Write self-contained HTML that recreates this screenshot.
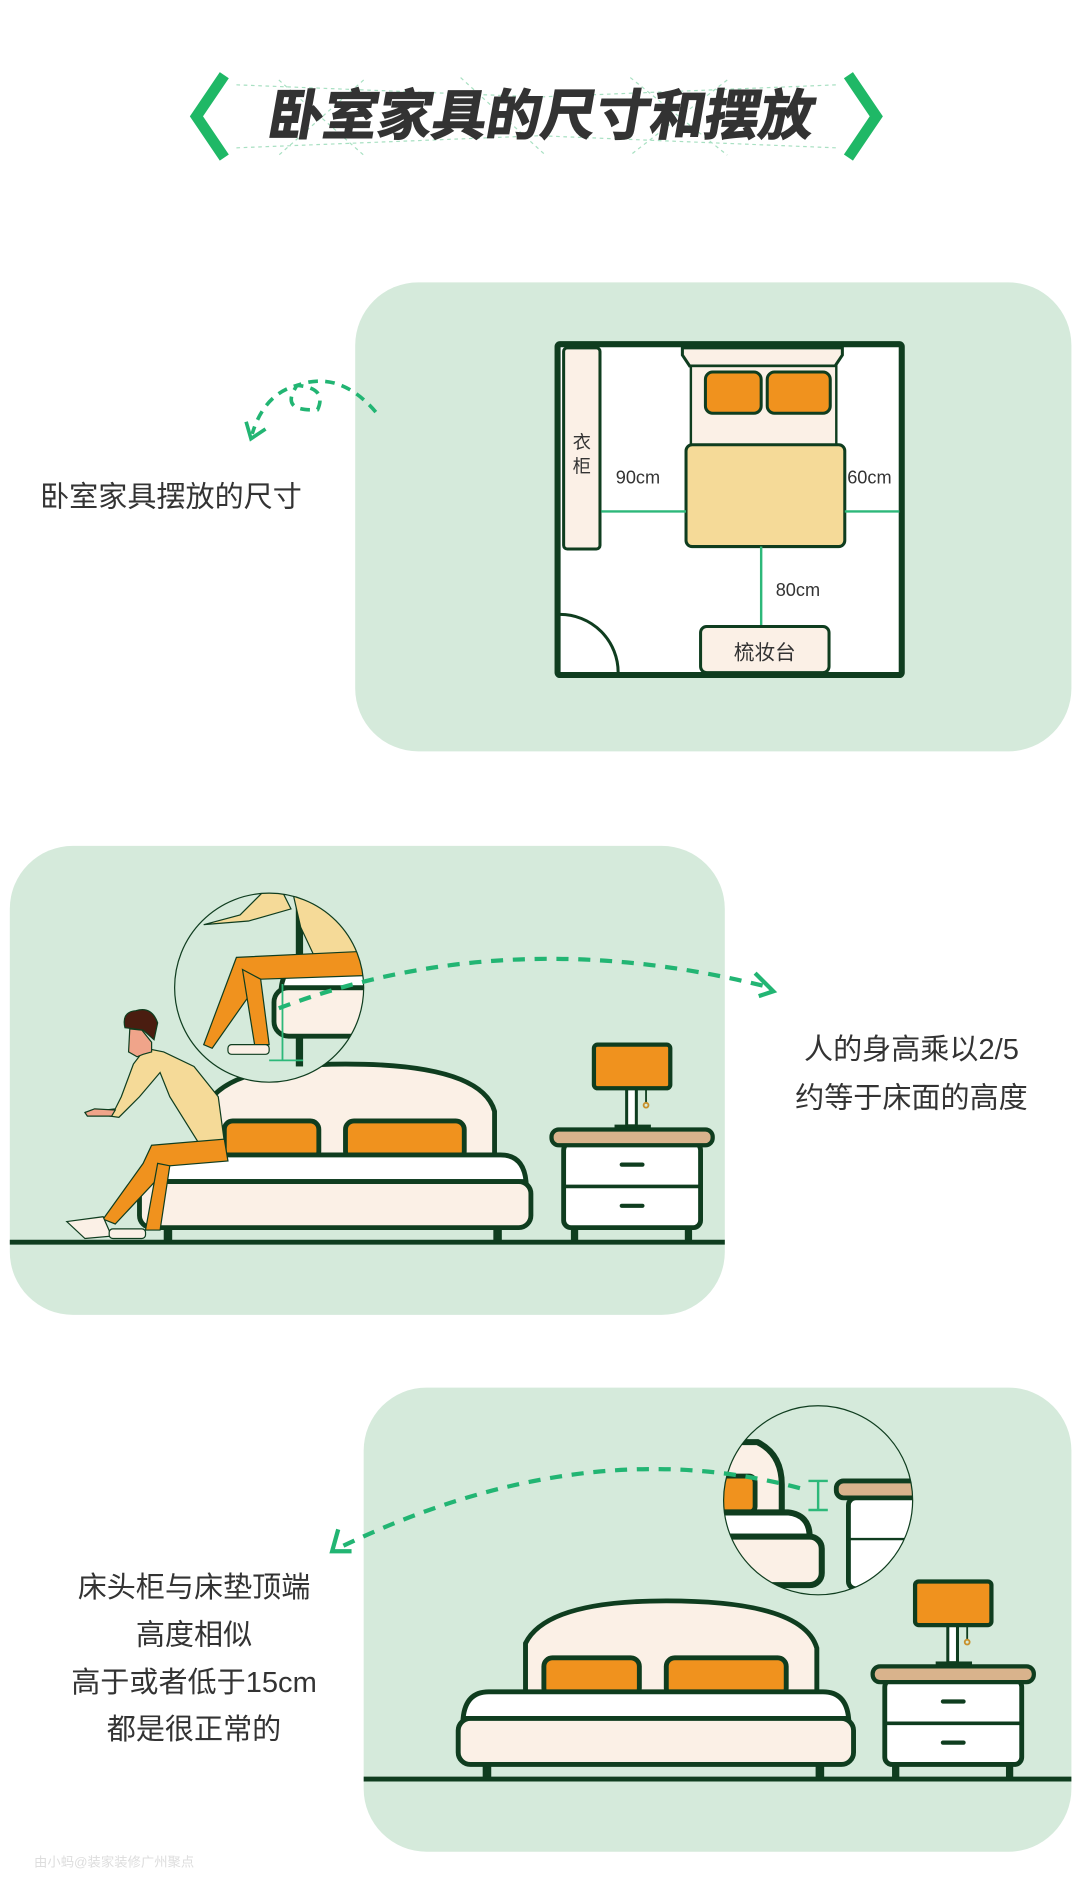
<!DOCTYPE html>
<html><head><meta charset="utf-8"><style>
html,body{margin:0;padding:0;background:#fff;}
svg{display:block;}
text{font-family:"Liberation Sans","Noto Sans CJK SC",sans-serif;}
</style></head><body>
<svg width="1080" height="1899" viewBox="0 0 891 1567" xmlns="http://www.w3.org/2000/svg">
<defs>
<g id="bed">
  <rect x="20" y="-16" width="7" height="16" fill="#0f3d1f"/>
  <rect x="292" y="-16" width="7" height="16" fill="#0f3d1f"/>
  <path d="M55,-70 L55,-112 Q72,-147 170,-147 Q282,-147 293,-108 L293,-70 Z" fill="#fbf0e6" stroke="#0f3d1f" stroke-width="4"/>
  <rect x="70" y="-100" width="78" height="32" rx="7" fill="#f0921e" stroke="#0f3d1f" stroke-width="4"/>
  <rect x="170" y="-100" width="98" height="32" rx="7" fill="#f0921e" stroke="#0f3d1f" stroke-width="4"/>
  <path d="M4,-50 Q6,-72 25,-72 L298,-72 Q317,-72 319,-50 Z" fill="#fff" stroke="#0f3d1f" stroke-width="4"/>
  <rect x="0" y="-50" width="323" height="38" rx="10" fill="#fbf0e6" stroke="#0f3d1f" stroke-width="4"/>
</g>
<g id="stand">
  <rect x="16" y="-14" width="6" height="14" fill="#0f3d1f"/>
  <rect x="110" y="-14" width="6" height="14" fill="#0f3d1f"/>
  <rect x="10" y="-82" width="113" height="70" rx="6" fill="#fff" stroke="#0f3d1f" stroke-width="4"/>
  <line x1="10" y1="-46" x2="123" y2="-46" stroke="#0f3d1f" stroke-width="3"/>
  <line x1="58" y1="-64" x2="75" y2="-64" stroke="#0f3d1f" stroke-width="3.5" stroke-linecap="round"/>
  <line x1="58" y1="-30" x2="75" y2="-30" stroke="#0f3d1f" stroke-width="3.5" stroke-linecap="round"/>
  <rect x="0" y="-93" width="133" height="13" rx="6" fill="#d9b38c" stroke="#0f3d1f" stroke-width="3.5"/>
  <rect x="52" y="-97" width="30" height="4" fill="#0f3d1f"/>
  <rect x="62" y="-130" width="8" height="34" fill="#fff" stroke="#0f3d1f" stroke-width="2.5"/>
  <line x1="78" y1="-128" x2="78" y2="-115" stroke="#0f3d1f" stroke-width="1.5"/>
  <circle cx="78" cy="-113" r="2" fill="none" stroke="#c8902b" stroke-width="1.5"/>
  <rect x="35" y="-163" width="63" height="36" rx="3" fill="#f0921e" stroke="#0f3d1f" stroke-width="3.5"/>
</g>
<clipPath id="c2"><circle cx="222" cy="815" r="78"/></clipPath>
<clipPath id="c3"><circle cx="675" cy="1238" r="78"/></clipPath>
</defs>

<!-- Title -->
<g>
  <polyline points="185,62 162,96 185,130" fill="none" stroke="#1fb866" stroke-width="9"/>
  <polyline points="700,62 723,96 700,130" fill="none" stroke="#1fb866" stroke-width="9"/>
  <path d="M195,70 L445,80 L690,70 M195,122 L445,112 L690,122 M230,66 L300,128 M380,64 L450,128 M520,64 L600,128 M300,66 L230,128 M600,66 L520,128" stroke="#a8e0c2" stroke-width="1" stroke-dasharray="3 3" fill="none"/>
  <text x="445" y="111" text-anchor="middle" font-size="45" font-weight="bold" fill="#333" stroke="#333" stroke-width="1" transform="skewX(-10) translate(19,0)">卧室家具的尺寸和摆放</text>
</g>

<!-- Section 1 -->
<rect x="293" y="233" width="591" height="387" rx="52" fill="#d5eadb"/>
<path d="M310,340 Q280,305 245,318 Q230,340 262,338 Q270,320 245,318 Q218,325 208,358" fill="none" stroke="#22b573" stroke-width="3" stroke-dasharray="8 6"/>
<path d="M203,348 L207,362 L219,354" fill="none" stroke="#22b573" stroke-width="3"/>
<text x="33" y="418" font-size="24" fill="#333">卧室家具摆放的尺寸</text>

<rect x="460" y="284" width="284" height="273" fill="#fff" stroke="#0f3d1f" stroke-width="5" rx="2"/>
<rect x="465" y="287" width="30" height="166" rx="3" fill="#fbf0e6" stroke="#0f3d1f" stroke-width="2.5"/>
<text x="480" y="370" font-size="15" fill="#333" text-anchor="middle">衣</text>
<text x="480" y="390" font-size="15" fill="#333" text-anchor="middle">柜</text>
<path d="M563,287 L695,287 L695,293 L689,302 L569,302 L563,293 Z" fill="#fbf0e6" stroke="#0f3d1f" stroke-width="2.5"/>
<rect x="570" y="302" width="120" height="66" fill="#fbf0e6" stroke="#0f3d1f" stroke-width="2"/>
<rect x="582" y="307" width="46" height="34" rx="6" fill="#f0921e" stroke="#0f3d1f" stroke-width="2.5"/>
<rect x="633" y="307" width="52" height="34" rx="6" fill="#f0921e" stroke="#0f3d1f" stroke-width="2.5"/>
<rect x="566" y="367" width="131" height="84" rx="5" fill="#f5da98" stroke="#0f3d1f" stroke-width="2.5"/>
<line x1="496" y1="422" x2="566" y2="422" stroke="#2db87a" stroke-width="2"/>
<line x1="697" y1="422" x2="742" y2="422" stroke="#2db87a" stroke-width="2"/>
<line x1="628" y1="451" x2="628" y2="517" stroke="#2db87a" stroke-width="2"/>
<text x="508" y="399" font-size="15" fill="#333">90cm</text>
<text x="699" y="399" font-size="15" fill="#333">60cm</text>
<text x="640" y="492" font-size="15" fill="#333">80cm</text>
<rect x="578" y="517" width="106" height="38" rx="5" fill="#fbf0e6" stroke="#0f3d1f" stroke-width="2.5"/>
<text x="631" y="544" font-size="17" fill="#333" text-anchor="middle">梳妆台</text>
<path d="M462,507 A48,48 0 0 1 510,555" fill="none" stroke="#0f3d1f" stroke-width="2.5"/>

<!-- Section 2 -->
<rect x="8" y="698" width="590" height="387" rx="52" fill="#d5eadb"/>
<use href="#bed" x="115" y="1025"/>
<use href="#stand" x="455" y="1025"/>
<line x1="8" y1="1025" x2="598" y2="1025" stroke="#0f3d1f" stroke-width="4"/>
<g stroke="#0f3d1f" stroke-width="1">
  <polygon points="120,865 110,878 100,905 95,915 70,918 98,922 115,905 132,885 140,905 165,945 185,942 180,905 160,880 135,868" fill="#f5da98"/>
  <polygon points="70,918 78,915 95,916 92,921 72,921" fill="#f0a48a"/>
  <polygon points="117,850 107,849 106,868 113,872 118,870 125,868 125,860" fill="#f0a48a"/>
  <path d="M103,848 Q100,835 112,834 Q125,830 130,844 L127,858 L118,850 Z" fill="#4a1d10"/>
  <polygon points="125,945 185,940 188,958 140,962 95,1010 85,1006 118,960" fill="#f0921e"/>
  <polygon points="130,960 140,962 132,1015 120,1015" fill="#f0921e"/>
  <polygon points="55,1008 85,1004 92,1020 70,1022" fill="#fbf0e6"/>
  <rect x="90" y="1014" width="30" height="8" rx="3" fill="#fbf0e6"/>
</g>
<g clip-path="url(#c2)">
  <circle cx="222" cy="815" r="78" fill="#d5eadb"/>
  <rect x="244" y="730" width="6" height="150" fill="#0f3d1f"/>
  <rect x="226" y="815" width="90" height="40" rx="12" fill="#fbf0e6" stroke="#0f3d1f" stroke-width="4"/>
  <path d="M232,815 Q234,797 250,797 L310,797 L310,815 Z" fill="#fff" stroke="#0f3d1f" stroke-width="4"/>
  <polygon points="230,730 240,750 205,760 168,763 198,755 225,728" fill="#f5da98" stroke="#0f3d1f" stroke-width="1"/>
  <polygon points="240,730 300,730 300,795 262,795 248,765" fill="#f5da98" stroke="#0f3d1f" stroke-width="1"/>
  <polygon points="195,790 300,785 302,805 215,808 175,865 168,862" fill="#f0921e" stroke="#0f3d1f" stroke-width="1"/>
  <polygon points="200,800 215,808 222,862 210,862" fill="#f0921e" stroke="#0f3d1f" stroke-width="1"/>
  <rect x="188" y="862" width="34" height="8" rx="3" fill="#fbf0e6" stroke="#0f3d1f" stroke-width="1"/>
  <line x1="233" y1="812" x2="233" y2="875" stroke="#2db87a" stroke-width="1.5"/>
  <line x1="222" y1="875" x2="250" y2="875" stroke="#2db87a" stroke-width="1.5"/>
</g>
<circle cx="222" cy="815" r="78" fill="none" stroke="#0f3d1f" stroke-width="1"/>
<path d="M230,832 Q420,760 636,815" fill="none" stroke="#22b573" stroke-width="3.5" stroke-dasharray="10 8"/>
<path d="M623,803 L638,818 L626,822" fill="none" stroke="#22b573" stroke-width="3.5"/>
<text x="752" y="874" font-size="24" fill="#333" text-anchor="middle">人的身高乘以2/5</text>
<text x="752" y="914" font-size="24" fill="#333" text-anchor="middle">约等于床面的高度</text>

<!-- Section 3 -->
<rect x="300" y="1145" width="584" height="383" rx="52" fill="#d5eadb"/>
<g transform="translate(378,1468) scale(1.01,1)"><use href="#bed"/></g>
<use href="#stand" x="720" y="1468"/>
<line x1="300" y1="1468" x2="884" y2="1468" stroke="#0f3d1f" stroke-width="4"/>
<g clip-path="url(#c3)">
  <circle cx="675" cy="1238" r="78" fill="#d5eadb"/>
  <path d="M560,1190 L625,1190 Q645,1200 645,1225 L645,1260 L560,1260 Z" fill="#fbf0e6" stroke="#0f3d1f" stroke-width="5"/>
  <rect x="585" y="1218" width="38" height="30" rx="5" fill="#f0921e" stroke="#0f3d1f" stroke-width="4"/>
  <path d="M560,1248 L650,1248 Q668,1250 668,1268 L560,1268 Z" fill="#fff" stroke="#0f3d1f" stroke-width="5"/>
  <rect x="560" y="1268" width="118" height="40" rx="10" fill="#fbf0e6" stroke="#0f3d1f" stroke-width="5"/>
  <rect x="690" y="1222" width="80" height="14" rx="6" fill="#d9b38c" stroke="#0f3d1f" stroke-width="4"/>
  <rect x="700" y="1236" width="80" height="75" rx="6" fill="#fff" stroke="#0f3d1f" stroke-width="4"/>
  <line x1="700" y1="1270" x2="780" y2="1270" stroke="#0f3d1f" stroke-width="2"/>
  <line x1="675" y1="1222" x2="675" y2="1246" stroke="#2db87a" stroke-width="2"/>
  <line x1="667" y1="1222" x2="683" y2="1222" stroke="#2db87a" stroke-width="2"/>
  <line x1="667" y1="1246" x2="683" y2="1246" stroke="#2db87a" stroke-width="2"/>
</g>
<circle cx="675" cy="1238" r="78" fill="none" stroke="#0f3d1f" stroke-width="1"/>
<path d="M660,1228 Q480,1180 278,1278" fill="none" stroke="#22b573" stroke-width="3.5" stroke-dasharray="10 8"/>
<path d="M279,1262 L274,1280 L290,1280" fill="none" stroke="#22b573" stroke-width="3.5"/>
<text x="160" y="1318" font-size="24" fill="#333" text-anchor="middle">床头柜与床垫顶端</text>
<text x="160" y="1357" font-size="24" fill="#333" text-anchor="middle">高度相似</text>
<text x="160" y="1396" font-size="24" fill="#333" text-anchor="middle">高于或者低于15cm</text>
<text x="160" y="1435" font-size="24" fill="#333" text-anchor="middle">都是很正常的</text>
<text x="28" y="1540" font-size="11" fill="#ddd">由小蚂@装家装修广州聚点</text>
</svg>
</body></html>
